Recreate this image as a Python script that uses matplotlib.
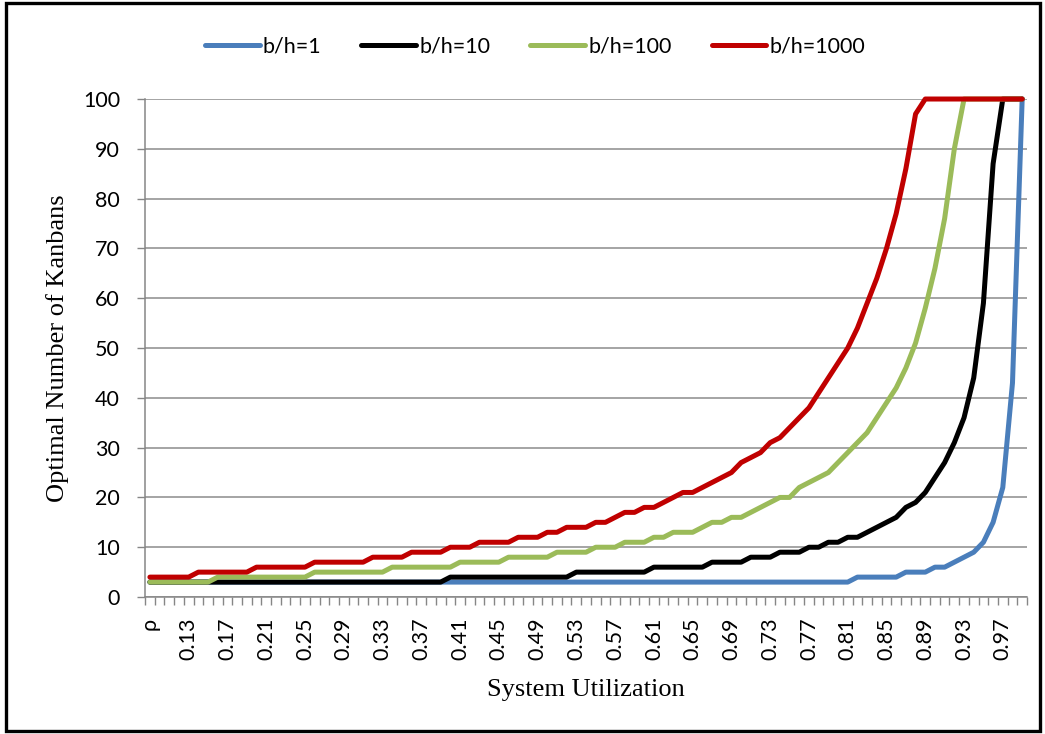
import matplotlib
matplotlib.use("Agg")
import matplotlib.pyplot as plt
from matplotlib.patches import Rectangle

# Kategorien der x-Achse (erste Kategorie ist die Kopfzeile "ρ")
categories = ["ρ"] + [f"0.{k:02d}" for k in range(10, 100)]

# Optimale Kanban-Anzahl je b/h-Verhältnis
kanban_bh1 = [3, 3, 3, 3, 3, 3, 3, 3, 3, 3,
              3, 3, 3, 3, 3, 3, 3, 3, 3, 3,
              3, 3, 3, 3, 3, 3, 3, 3, 3, 3,
              3, 3, 3, 3, 3, 3, 3, 3, 3, 3,
              3, 3, 3, 3, 3, 3, 3, 3, 3, 3,
              3, 3, 3, 3, 3, 3, 3, 3, 3, 3,
              3, 3, 3, 3, 3, 3, 3, 3, 3, 3,
              3, 3, 3, 4, 4, 4, 4, 4, 5, 5,
              5, 6, 6, 7, 8, 9, 11, 15, 22, 43,
              100]

kanban_bh10 = [3, 3, 3, 3, 3, 3, 3, 3, 3, 3,
               3, 3, 3, 3, 3, 3, 3, 3, 3, 3,
               3, 3, 3, 3, 3, 3, 3, 3, 3, 3,
               3, 4, 4, 4, 4, 4, 4, 4, 4, 4,
               4, 4, 4, 4, 5, 5, 5, 5, 5, 5,
               5, 5, 6, 6, 6, 6, 6, 6, 7, 7,
               7, 7, 8, 8, 8, 9, 9, 9, 10, 10,
               11, 11, 12, 12, 13, 14, 15, 16, 18, 19,
               21, 24, 27, 31, 36, 44, 59, 87, 100, 100,
               100]

kanban_bh100 = [3, 3, 3, 3, 3, 3, 3, 4, 4, 4,
                4, 4, 4, 4, 4, 4, 4, 5, 5, 5,
                5, 5, 5, 5, 5, 6, 6, 6, 6, 6,
                6, 6, 7, 7, 7, 7, 7, 8, 8, 8,
                8, 8, 9, 9, 9, 9, 10, 10, 10, 11,
                11, 11, 12, 12, 13, 13, 13, 14, 15, 15,
                16, 16, 17, 18, 19, 20, 20, 22, 23, 24,
                25, 27, 29, 31, 33, 36, 39, 42, 46, 51,
                58, 66, 76, 90, 100, 100, 100, 100, 100, 100,
                100]

kanban_bh1000 = [4, 4, 4, 4, 4, 5, 5, 5, 5, 5,
                 5, 6, 6, 6, 6, 6, 6, 7, 7, 7,
                 7, 7, 7, 8, 8, 8, 8, 9, 9, 9,
                 9, 10, 10, 10, 11, 11, 11, 11, 12, 12,
                 12, 13, 13, 14, 14, 14, 15, 15, 16, 17,
                 17, 18, 18, 19, 20, 21, 21, 22, 23, 24,
                 25, 27, 28, 29, 31, 32, 34, 36, 38, 41,
                 44, 47, 50, 54, 59, 64, 70, 77, 86, 97,
                 100, 100, 100, 100, 100, 100, 100, 100, 100, 100,
                 100]

series_labels = ["b/h=1", "b/h=10", "b/h=100", "b/h=1000"]
series_colors = ["#4A7EBB", "#000000", "#9BBB59", "#C00000"]
y_ticks = [0, 10, 20, 30, 40, 50, 60, 70, 80, 90, 100]

tick_font = ["Lato", "DejaVu Sans"]
label_font = ["Liberation Serif", "DejaVu Serif"]

fig = plt.figure(figsize=(10.45, 7.34), dpi=100)
ax = fig.add_axes([0.1388, 0.1866, 0.9828 - 0.1388, 0.8651 - 0.1866])

x = list(range(len(categories)))
all_series = [kanban_bh1, kanban_bh10, kanban_bh100, kanban_bh1000]
for values, label, color in zip(all_series, series_labels, series_colors):
    ax.plot(x, values, color=color, linewidth=3.6, label=label,
            solid_joinstyle="round", solid_capstyle="round",
            clip_on=False, zorder=3)

# Achsen
ax.set_xlim(-0.5, len(categories) - 0.5)
ax.set_ylim(0, 100)
ax.set_yticks(y_ticks)
ax.set_yticklabels([str(v) for v in y_ticks], family=tick_font, fontsize=15.5)
ax.tick_params(axis="y", length=6, width=1, color="#868686", pad=12)

# Kategorien: Striche zwischen den Kategorien, Beschriftung jede 4.
ax.set_xticks([i - 0.5 for i in range(len(categories) + 1)], minor=True)
ax.set_xticks(x[::4])
ax.set_xticklabels(categories[::4], rotation=90, family=tick_font,
                   fontsize=15.5, va="top", ha="center")
ax.tick_params(axis="x", which="major", length=0, pad=15)
ax.tick_params(axis="x", which="minor", length=6, width=1, color="#868686")

ax.grid(axis="y", color="#8C8C8C", linewidth=1.1)
ax.set_axisbelow(True)
for side in ["top", "right"]:
    ax.spines[side].set_visible(False)
for side in ["left", "bottom"]:
    ax.spines[side].set_color("#868686")
    ax.spines[side].set_linewidth(1.1)

ax.set_ylabel("Optimal Number of Kanbans", family=label_font, fontsize=19,
              labelpad=10)
ax.set_xlabel("System Utilization", family=label_font, fontsize=19,
              labelpad=13)

# Legende oben
fig.legend(loc="center", bbox_to_anchor=(0.512, 0.937), ncol=4,
           frameon=False, prop={"family": tick_font, "size": 15.5},
           handlelength=2.55, handletextpad=0.15, columnspacing=1.85)

# Rahmen um das Diagramm
fig.patches.append(Rectangle((0.006, 0.004), 0.989, 0.992, transform=fig.transFigure,
                             fill=False, edgecolor="black", linewidth=2.4))

fig.savefig("out.png", dpi=100)
